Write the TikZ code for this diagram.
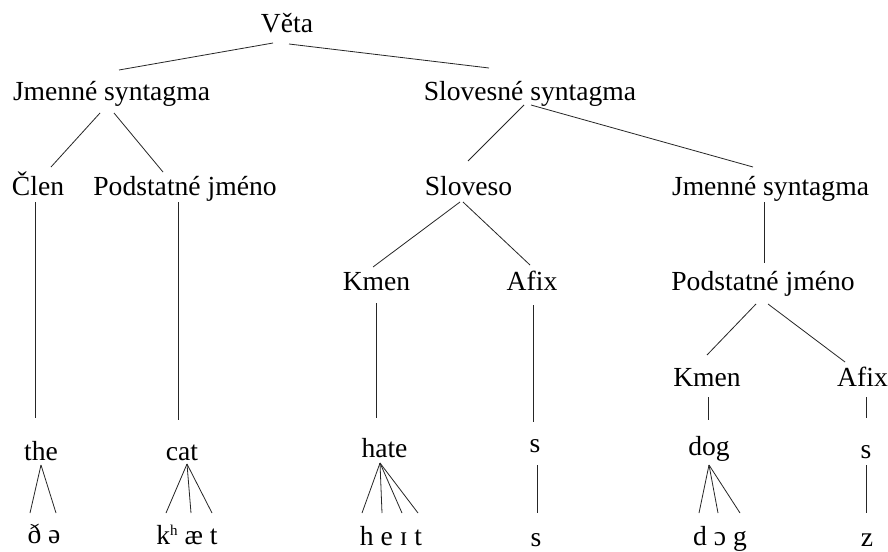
\documentclass[tikz,border=0pt]{standalone}
\usepackage{fontspec}
\setmainfont{Liberation Serif}
\begin{document}
\begin{tikzpicture}[x=1pt,y=-1pt,
  tx/.style={anchor=base, inner sep=0pt, font=\fontsize{27.6}{33}\selectfont},
  br/.style={line width=0.8pt, draw=black!85}]
\useasboundingbox[fill=white] (0,0) rectangle (888,551);
% nodes (base point = center x, baseline y)
\node[tx] (veta)  at (287,33)   {Věta};
\node[tx] (js1)   at (111.5,100){Jmenné syntagma};
\node[tx] (ss)    at (530,100)  {Slovesné syntagma};
\node[tx] (clen)  at (38,195)   {Člen};
\node[tx] (pj1)   at (185,195)  {Podstatné jméno};
\node[tx] (slov)  at (468.5,195){Sloveso};
\node[tx] (js2)   at (770.5,195){Jmenné syntagma};
\node[tx] (kmen1) at (376.5,290){Kmen};
\node[tx] (afix1) at (532,290)  {Afix};
\node[tx] (pj2)   at (763,290)  {Podstatné jméno};
\node[tx] (kmen2) at (707,386)  {Kmen};
\node[tx] (afix2) at (862.5,386){Afix};
\node[tx] (the)   at (41,460)   {the};
\node[tx] (cat)   at (182,460)  {cat};
\node[tx] (hate)  at (384.5,457){hate};
\node[tx] (s1)    at (535,452)  {s};
\node[tx] (dog)   at (709,455)  {dog};
\node[tx] (s2)    at (866,458)  {s};
\node[tx] (ph1)   at (44,543)   {ð ə};
\node[tx] (ph2)   at (187,544)  {k\raisebox{9pt}{\fontsize{15}{15}\selectfont h} æ t};
\node[tx] (ph3)   at (391,545)  {h e ɪ t};
\node[tx] (ph4)   at (536,546)  {s};
\node[tx] (ph5)   at (720,545)  {d ɔ g};
\node[tx] (ph6)   at (867,546)  {z};
% connectors
\draw[br] ([shift={(-14,10)}]veta.base) -- ([shift={(7.5,-30)}]js1.base);
\draw[br] ([shift={(2,11)}]veta.base) -- ([shift={(-41,-32)}]ss.base);
\draw[br] ([shift={(-11.5,13)}]js1.base) -- ([shift={(13,-28)}]clen.base);
\draw[br] ([shift={(2.5,13)}]js1.base) -- ([shift={(-22,-23)}]pj1.base);
\draw[br] ([shift={(-6,5)}]ss.base) -- ([shift={(-0.5,-34)}]slov.base);
\draw[br] ([shift={(1,5)}]ss.base) -- ([shift={(-17.5,-28)}]js2.base);
\draw[br] ([shift={(-3,7)}]clen.base) -- ([shift={(-6,-42)}]the.base);
\draw[br] ([shift={(-7,7)}]pj1.base) -- ([shift={(-4,-40)}]cat.base);
\draw[br] ([shift={(-8.5,7)}]slov.base) -- ([shift={(-3.5,-23)}]kmen1.base);
\draw[br] ([shift={(-5.5,7)}]slov.base) -- ([shift={(-2,-25)}]afix1.base);
\draw[br] ([shift={(-6.5,7)}]js2.base) -- ([shift={(1,-27)}]pj2.base);
\draw[br] ([shift={(-0.5,13)}]kmen1.base) -- ([shift={(-8.5,-39)}]hate.base);
\draw[br] ([shift={(1,15)}]afix1.base) -- ([shift={(-2,-30)}]s1.base);
\draw[br] ([shift={(-7,14)}]pj2.base) -- ([shift={(0,-31)}]kmen2.base);
\draw[br] ([shift={(5,14)}]pj2.base) -- ([shift={(-17.5,-24)}]afix2.base);
\draw[br] ([shift={(1.5,11)}]kmen2.base) -- ([shift={(-0.5,-35)}]dog.base);
\draw[br] ([shift={(3.5,11)}]afix2.base) -- ([shift={(0,-40)}]s2.base);
\draw[br] ([shift={(0,5)}]the.base) -- ([shift={(-14,-30)}]ph1.base);
\draw[br] ([shift={(0,5)}]the.base) -- ([shift={(12,-30)}]ph1.base);
\draw[br] ([shift={(5,4)}]cat.base) -- ([shift={(-21,-31)}]ph2.base);
\draw[br] ([shift={(5,4)}]cat.base) -- ([shift={(4,-31)}]ph2.base);
\draw[br] ([shift={(5,4)}]cat.base) -- ([shift={(25,-31)}]ph2.base);
\draw[br] ([shift={(-4.5,6)}]hate.base) -- ([shift={(-29,-32)}]ph3.base);
\draw[br] ([shift={(-4.5,6)}]hate.base) -- ([shift={(-9,-32)}]ph3.base);
\draw[br] ([shift={(-4.5,6)}]hate.base) -- ([shift={(11,-32)}]ph3.base);
\draw[br] ([shift={(-4.5,6)}]hate.base) -- ([shift={(27,-32)}]ph3.base);
\draw[br] ([shift={(2,13)}]s1.base) -- ([shift={(1,-33)}]ph4.base);
\draw[br] ([shift={(0,10)}]dog.base) -- ([shift={(-21,-32)}]ph5.base);
\draw[br] ([shift={(0,10)}]dog.base) -- ([shift={(-2,-32)}]ph5.base);
\draw[br] ([shift={(0,10)}]dog.base) -- ([shift={(20,-32)}]ph5.base);
\draw[br] ([shift={(0,7)}]s2.base) -- ([shift={(-1,-33)}]ph6.base);
\end{tikzpicture}
\end{document}
